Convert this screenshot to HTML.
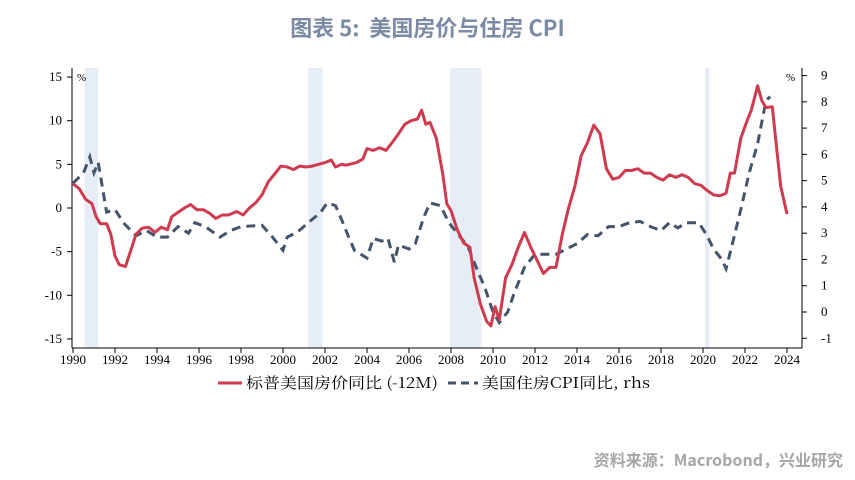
<!DOCTYPE html>
<html><head><meta charset="utf-8">
<style>
body{margin:0;width:855px;height:480px;background:#fff;overflow:hidden;font-family:"Liberation Serif","Noto Serif CJK SC",serif;}
#title{position:absolute;left:0;width:855px;top:11px;text-align:center;font:bold 22px "Noto Sans CJK SC","Liberation Sans",sans-serif;color:#7b8ba5;}
#src{position:absolute;right:12px;top:447px;font:bold 16px "Noto Sans CJK SC","Liberation Sans",sans-serif;color:#a6a6a6;}
svg{position:absolute;left:0;top:0;}
</style></head><body>
<div id="title">图表 5:&nbsp; 美国房价与住房 CPI</div>
<div id="src">资料来源：Macrobond，兴业研究</div>
<svg id="chart" width="855" height="480"></svg>
<script>
const recessions=[[1990.55,1991.2],[2001.2,2001.88],[2007.95,2009.45],[2020.1,2020.3]];
const redYears=[1990.0,1990.3,1990.6,1990.9,1991.1,1991.3,1991.6,1991.8,1992.0,1992.2,1992.5,1992.8,1993.0,1993.3,1993.6,1993.9,1994.2,1994.5,1994.7,1995.0,1995.3,1995.6,1995.9,1996.2,1996.5,1996.8,1997.1,1997.4,1997.8,1998.1,1998.4,1998.7,1999.0,1999.3,1999.6,1999.9,2000.2,2000.5,2000.8,2001.1,2001.4,2001.7,2002.0,2002.3,2002.5,2002.8,2003.0,2003.5,2003.8,2004.0,2004.3,2004.6,2004.9,2005.2,2005.5,2005.8,2006.1,2006.4,2006.6,2006.8,2007.0,2007.3,2007.6,2007.8,2008.0,2008.3,2008.6,2008.9,2009.1,2009.4,2009.7,2009.9,2010.1,2010.3,2010.6,2010.9,2011.2,2011.5,2011.8,2012.1,2012.4,2012.7,2013.0,2013.3,2013.6,2013.9,2014.2,2014.5,2014.8,2015.1,2015.4,2015.7,2016.0,2016.3,2016.6,2016.9,2017.2,2017.5,2017.8,2018.1,2018.4,2018.7,2019.0,2019.3,2019.6,2019.9,2020.2,2020.5,2020.8,2021.1,2021.3,2021.5,2021.8,2022.1,2022.3,2022.6,2022.8,2023.0,2023.3,2023.5,2023.7,2024.0];
const redValues=[2.8,2.2,1.0,0.5,-1.0,-1.8,-1.8,-3,-5.5,-6.5,-6.7,-4.5,-3.0,-2.3,-2.2,-2.8,-2.2,-2.5,-1.0,-0.5,0.0,0.4,-0.2,-0.2,-0.6,-1.2,-0.8,-0.8,-0.4,-0.8,0.0,0.6,1.5,3.0,3.9,4.8,4.7,4.4,4.8,4.7,4.8,5.0,5.2,5.5,4.7,5.0,4.9,5.2,5.6,6.8,6.6,6.9,6.6,7.5,8.5,9.6,10.0,10.2,11.2,9.6,9.8,8.0,4.0,0.5,-0.3,-2.5,-4.0,-4.5,-8.0,-11.0,-13.0,-13.5,-11.3,-12.8,-8,-6.5,-4.5,-2.8,-4.5,-6.0,-7.5,-6.8,-6.8,-3.0,0.0,2.5,6.0,7.5,9.5,8.5,4.5,3.3,3.5,4.3,4.3,4.5,4.0,4.0,3.5,3.2,3.8,3.5,3.8,3.5,2.8,2.6,2.0,1.5,1.4,1.7,4.0,4.0,8,10.0,11.2,14.0,12.3,11.5,11.6,7.0,2.5,-0.7];
const blueYears=[1990.0,1990.5,1990.8,1991.0,1991.2,1991.6,1992.0,1992.4,1993.0,1993.5,1994.0,1994.5,1995.0,1995.5,1995.8,1996.3,1997.0,1997.5,1998.0,1999.0,1999.5,2000.0,2000.2,2000.7,2001.2,2001.8,2002.1,2002.5,2002.8,2003.0,2003.4,2004.0,2004.3,2004.7,2005.0,2005.3,2005.5,2006.0,2006.3,2006.7,2007.0,2007.5,2007.9,2008.3,2008.8,2009.2,2009.6,2010.0,2010.3,2010.7,2011.0,2011.5,2012.0,2012.5,2013.0,2013.5,2014.0,2014.5,2015.0,2015.5,2016.0,2016.5,2017.0,2017.5,2018.0,2018.4,2018.8,2019.2,2019.8,2020.2,2020.5,2020.9,2021.1,2021.4,2021.8,2022.2,2022.6,2023.0,2023.2];
const blueValues=[4.9,5.3,5.9,5.3,5.7,3.8,3.9,3.4,2.9,3.1,2.85,2.85,3.25,3.0,3.4,3.25,2.85,3.1,3.25,3.3,2.85,2.35,2.85,3.05,3.4,3.8,4.15,4.05,3.5,3.1,2.35,2.05,2.8,2.7,2.8,1.9,2.55,2.4,2.6,3.6,4.15,4.05,3.4,3.0,2.5,1.7,0.95,0.0,-0.4,0.0,0.7,1.7,2.2,2.2,2.2,2.4,2.6,2.95,2.9,3.25,3.25,3.4,3.45,3.25,3.1,3.4,3.2,3.4,3.4,2.9,2.4,2.0,1.65,2.6,3.9,5.3,6.4,8.05,8.2];
const leftTicks=[15,10,5,0,-5,-10,-15];
const rightTicks=[9,8,7,6,5,4,3,2,1,0,-1];
const xTicks=[1990,1992,1994,1996,1998,2000,2002,2004,2006,2008,2010,2012,2014,2016,2018,2020,2022,2024];

const L=72,R=802,T=68,B=348;
const xs=y=>73+(y-1990)*(787-73)/34;
const yl=v=>208-v*8.73;
const yr=v=>312-v*26.27;
const svg=document.getElementById('chart');
const NS='http://www.w3.org/2000/svg';
function el(tag,attrs,text){const e=document.createElementNS(NS,tag);for(const k in attrs)e.setAttribute(k,attrs[k]);if(text!==undefined)e.textContent=text;svg.appendChild(e);return e;}

recessions.forEach(r=>{const e=el('rect',{x:xs(r[0]),y:T,width:xs(r[1])-xs(r[0]),height:B-T,fill:'#e6edf6'});

});

let a=el('line',{x1:L,y1:T,x2:L,y2:B,stroke:'#000','stroke-width':1});
a=el('line',{x1:R,y1:T,x2:R,y2:B,stroke:'#000','stroke-width':1});
a=el('line',{x1:L,y1:B,x2:R,y2:B,stroke:'#000','stroke-width':1});

leftTicks.forEach(v=>{el('line',{x1:L-5,y1:yl(v),x2:L,y2:yl(v),stroke:'#000'});
const t=el('text',{x:L-10,y:yl(v)+4,'text-anchor':'end','font-size':13,fill:'#000'},String(v));

});
rightTicks.forEach(v=>{el('line',{x1:R,y1:yr(v),x2:R+5,y2:yr(v),stroke:'#000'});
const t=el('text',{x:R+19,y:yr(v)+4,'text-anchor':'start','font-size':13,fill:'#000'},String(v));

});
xTicks.forEach(v=>{el('line',{x1:xs(v),y1:B,x2:xs(v),y2:B+5,stroke:'#000'});
const t=el('text',{x:xs(v),y:B+16,'text-anchor':'middle','font-size':13,fill:'#000'},String(v));

});
let u=el('text',{x:77,y:81,'font-size':11,fill:'#000'},'%');
u=el('text',{x:786,y:81,'font-size':11,fill:'#000'},'%');

const bp=blueYears.map((y,i)=>xs(y).toFixed(1)+','+yr(blueValues[i]).toFixed(1)).join(' ');
let s=el('polyline',{points:bp,fill:'none',stroke:'#44546a','stroke-width':3,'stroke-dasharray':'9,6'});


const rp=redYears.map((y,i)=>xs(y).toFixed(1)+','+yl(redValues[i]).toFixed(1)).join(' ');
s=el('polyline',{points:rp,fill:'none',stroke:'#d03a4e','stroke-width':3,'stroke-linejoin':'round'});



let lg=el('line',{x1:218,y1:383,x2:242,y2:383,stroke:'#d03a4e','stroke-width':3});
lg=el('text',{x:246,y:388,'font-size':15,fill:'#000',textLength:192,lengthAdjust:'spacingAndGlyphs','font-family':'"Noto Serif CJK SC","Liberation Mono",serif'},'标普美国房价同比 (-12M)');
lg=el('line',{x1:448,y1:383,x2:478,y2:383,stroke:'#44546a','stroke-width':3,'stroke-dasharray':'8,5'});
lg=el('text',{x:482,y:388,'font-size':15,fill:'#000',textLength:168,lengthAdjust:'spacingAndGlyphs','font-family':'"Noto Serif CJK SC","Liberation Mono",serif'},'美国住房CPI同比, rhs');
</script>
</body></html>
